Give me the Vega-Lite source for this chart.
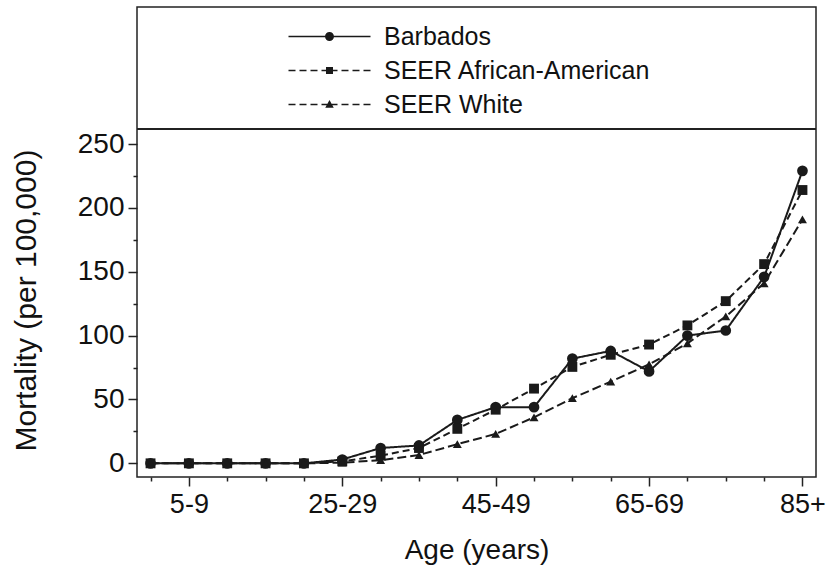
{
  "$schema": "https://vega.github.io/schema/vega-lite/v6.json",
  "autosize": {"type": "none"},
  "width": 679,
  "height": 470,
  "padding": {"left": 137, "top": 7, "right": 16, "bottom": 102},
  "config": {
    "font": "Liberation Sans",
    "view": {"stroke": "#222", "strokeWidth": 1.5},
    "axis": {"domain": false, "grid": false, "tickColor": "#222", "tickWidth": 1.5, "labelColor": "#111", "titleColor": "#111", "labelFont": "Liberation Sans", "titleFont": "Liberation Sans", "titleFontWeight": "normal"}
  },
  "data": {"values": [
    {"age": "0-4", "series": "Barbados", "value": 0},
    {"age": "5-9", "series": "Barbados", "value": 0},
    {"age": "10-14", "series": "Barbados", "value": 0},
    {"age": "15-19", "series": "Barbados", "value": 0},
    {"age": "20-24", "series": "Barbados", "value": 0},
    {"age": "25-29", "series": "Barbados", "value": 3},
    {"age": "30-34", "series": "Barbados", "value": 12},
    {"age": "35-39", "series": "Barbados", "value": 14},
    {"age": "40-44", "series": "Barbados", "value": 34},
    {"age": "45-49", "series": "Barbados", "value": 44},
    {"age": "50-54", "series": "Barbados", "value": 44},
    {"age": "55-59", "series": "Barbados", "value": 82},
    {"age": "60-64", "series": "Barbados", "value": 88},
    {"age": "65-69", "series": "Barbados", "value": 72},
    {"age": "70-74", "series": "Barbados", "value": 100},
    {"age": "75-79", "series": "Barbados", "value": 104},
    {"age": "80-84", "series": "Barbados", "value": 146},
    {"age": "85+", "series": "Barbados", "value": 229},
    {"age": "0-4", "series": "SEER African-American", "value": 0},
    {"age": "5-9", "series": "SEER African-American", "value": 0},
    {"age": "10-14", "series": "SEER African-American", "value": 0},
    {"age": "15-19", "series": "SEER African-American", "value": 0},
    {"age": "20-24", "series": "SEER African-American", "value": 0},
    {"age": "25-29", "series": "SEER African-American", "value": 1.5},
    {"age": "30-34", "series": "SEER African-American", "value": 6},
    {"age": "35-39", "series": "SEER African-American", "value": 12},
    {"age": "40-44", "series": "SEER African-American", "value": 27},
    {"age": "45-49", "series": "SEER African-American", "value": 42},
    {"age": "50-54", "series": "SEER African-American", "value": 58.5},
    {"age": "55-59", "series": "SEER African-American", "value": 75.5},
    {"age": "60-64", "series": "SEER African-American", "value": 85},
    {"age": "65-69", "series": "SEER African-American", "value": 93},
    {"age": "70-74", "series": "SEER African-American", "value": 108},
    {"age": "75-79", "series": "SEER African-American", "value": 127},
    {"age": "80-84", "series": "SEER African-American", "value": 156},
    {"age": "85+", "series": "SEER African-American", "value": 214},
    {"age": "0-4", "series": "SEER White", "value": 0},
    {"age": "5-9", "series": "SEER White", "value": 0},
    {"age": "10-14", "series": "SEER White", "value": 0},
    {"age": "15-19", "series": "SEER White", "value": 0},
    {"age": "20-24", "series": "SEER White", "value": 0},
    {"age": "25-29", "series": "SEER White", "value": 0.5},
    {"age": "30-34", "series": "SEER White", "value": 2.5},
    {"age": "35-39", "series": "SEER White", "value": 6.5},
    {"age": "40-44", "series": "SEER White", "value": 15},
    {"age": "45-49", "series": "SEER White", "value": 23},
    {"age": "50-54", "series": "SEER White", "value": 36},
    {"age": "55-59", "series": "SEER White", "value": 51},
    {"age": "60-64", "series": "SEER White", "value": 64},
    {"age": "65-69", "series": "SEER White", "value": 77.5},
    {"age": "70-74", "series": "SEER White", "value": 94},
    {"age": "75-79", "series": "SEER White", "value": 115},
    {"age": "80-84", "series": "SEER White", "value": 141},
    {"age": "85+", "series": "SEER White", "value": 191}
  ]},
  "encoding": {
    "x": {
      "field": "age", "type": "ordinal",
      "scale": {"type": "point", "padding": 0.353, "domain": ["0-4","5-9","10-14","15-19","20-24","25-29","30-34","35-39","40-44","45-49","50-54","55-59","60-64","65-69","70-74","75-79","80-84","85+"]},
      "axis": {
        "title": "Age (years)", "labelAngle": 0, "labelFontSize": 27, "titleFontSize": 28,
        "labelPadding": 5, "titlePadding": 19,
        "labelExpr": "indexof(['5-9','25-29','45-49','65-69','85+'], datum.value) >= 0 ? datum.label : ''",
        "tickSize": {"condition": {"test": "indexof(['5-9','25-29','45-49','65-69','85+'], datum.value) >= 0", "value": 9}, "value": 4}
      }
    },
    "y": {
      "field": "value", "type": "quantitative",
      "scale": {"domain": [-10.7, 357.3], "nice": false, "zero": false},
      "axis": {
        "title": "Mortality (per 100,000)", "values": [0,25,50,75,100,125,150,175,200,225,250],
        "labelFontSize": 28, "titleFontSize": 30, "labelPadding": 4, "titlePadding": 36,
        "titleY": 293,
        "labelExpr": "datum.value % 50 === 0 ? datum.label : ''",
        "tickSize": {"condition": {"test": "datum.value % 50 === 0", "value": 9}, "value": 4}
      }
    }
  },
  "resolve": {"scale": {"shape": "independent"}, "legend": {"shape": "independent"}},
  "layer": [
    {
      "mark": {"type": "rule", "color": "#222", "strokeWidth": 1.5},
      "encoding": {"y": {"datum": 261.7}, "x": null}
    },
    {
      "mark": {"type": "line", "color": "#1a1a1a", "strokeWidth": 2},
      "encoding": {
        "detail": {"field": "series"},
        "strokeDash": {
          "field": "series", "type": "nominal",
          "scale": {"domain": ["Barbados", "SEER African-American", "SEER White"], "range": [[1, 0], [7, 4], [9, 4]]},
          "legend": null
        }
      }
    },
    {
      "mark": {"type": "point", "filled": true, "color": "#1a1a1a", "opacity": 1},
      "encoding": {
        "shape": {
          "field": "series", "type": "nominal",
          "scale": {"domain": ["Barbados", "SEER African-American", "SEER White"], "range": ["circle", "square", "triangle-up"]},
          "legend": null
        },
        "size": {
          "field": "series", "type": "nominal",
          "scale": {"domain": ["Barbados", "SEER African-American", "SEER White"], "range": [115, 80, 75]},
          "legend": null
        }
      }
    },
    {
      "transform": [{"filter": "datum.value < -1000"}],
      "mark": {"type": "point", "filled": true, "color": "#1a1a1a", "opacity": 1, "size": 100, "strokeWidth": 0},
      "encoding": {
        "shape": {
          "field": "series", "type": "nominal",
          "scale": {
            "domain": ["Barbados", "SEER African-American", "SEER White"],
            "range": [
              "M-8.2,-0.16H8.2V0.16H-8.2ZM0.9,0A0.9,0.9,0,1,1,-0.9,0A0.9,0.9,0,1,1,0.9,0Z",
              "M-8.2,-0.16H-6.8V0.16H-8.2ZM-6,-0.16H-4.6V0.16H-6ZM-3.8,-0.16H-2.4V0.16H-3.8ZM-1.6,-0.16H1.6V0.16H-1.6ZM2.4,-0.16H3.8V0.16H2.4ZM4.6,-0.16H6V0.16H4.6ZM6.8,-0.16H8.2V0.16H6.8ZM-0.7,-0.7H0.7V0.7H-0.7Z",
              "M-8.2,-0.16H-6.8V0.16H-8.2ZM-6,-0.16H-4.6V0.16H-6ZM-3.8,-0.16H-2.4V0.16H-3.8ZM-1.6,-0.16H1.6V0.16H-1.6ZM2.4,-0.16H3.8V0.16H2.4ZM4.6,-0.16H6V0.16H4.6ZM6.8,-0.16H8.2V0.16H6.8ZM0,-0.9L0.85,0.65H-0.85Z"
            ]
          },
          "legend": {
            "title": null, "orient": "none", "legendX": 180, "legendY": 17,
            "labelFontSize": 25, "labelColor": "#111", "labelOffset": 42, "rowPadding": 8, "labelLimit": 500,
            "symbolSize": 100, "symbolStrokeWidth": 0, "symbolFillColor": "#1a1a1a", "symbolOpacity": 1
          }
        }
      }
    }
  ]
}
